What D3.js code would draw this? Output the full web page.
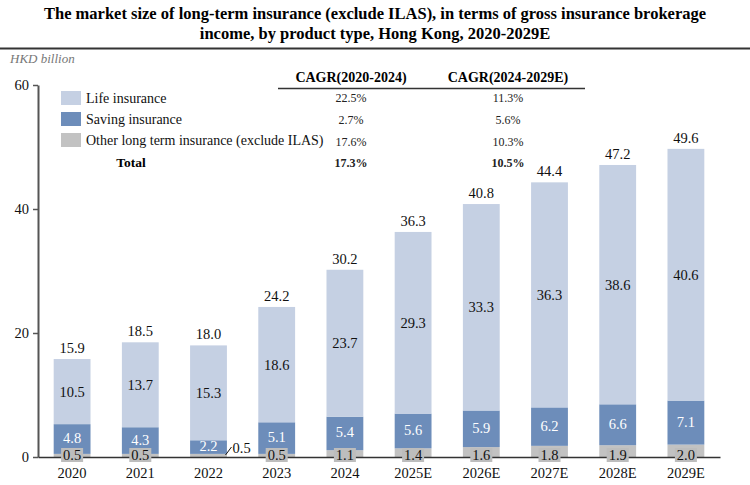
<!DOCTYPE html>
<html><head><meta charset="utf-8">
<script src="https://cdn.jsdelivr.net/npm/d3@7"></script>
<style>body{margin:0;background:#fff}svg{display:block}text{font-family:"Liberation Serif","Times New Roman",serif}</style>
</head><body><svg id="c" width="750" height="485"></svg>
<script>
const years = ["2020","2021","2022","2023","2024","2025E","2026E","2027E","2028E","2029E"];
const other = [0.5,0.5,0.5,0.5,1.1,1.4,1.6,1.8,1.9,2.0];
const saving = [4.8,4.3,2.2,5.1,5.4,5.6,5.9,6.2,6.6,7.1];
const life = [10.5,13.7,15.3,18.6,23.7,29.3,33.3,36.3,38.6,40.6];
const totals = [15.9,18.5,18.0,24.2,30.2,36.3,40.8,44.4,47.2,49.6];
const yTicks = [0,20,40,60];
const seriesNames = ["Life insurance","Saving insurance","Other long term insurance (exclude ILAS)"];
const cagr1 = ["22.5%","2.7%","17.6%","17.3%"];
const cagr2 = ["11.3%","5.6%","10.3%","10.5%"];
const cagrHeads = ["CAGR(2020-2024)","CAGR(2024-2029E)"];

const colors = {life:"#c5d0e3", saving:"#6d8dba", other:"#c2c2c2"};
const svg = d3.select("#c");

// title
svg.append("text").attr("x",375).attr("y",19).attr("text-anchor","middle")
  .attr("font-weight","bold").attr("font-size",16.5).text("The market size of long-term insurance (exclude ILAS), in terms of gross insurance brokerage");
svg.append("text").attr("x",375).attr("y",39).attr("text-anchor","middle")
  .attr("font-weight","bold").attr("font-size",16.5).text("income, by product type, Hong Kong, 2020-2029E");
svg.append("line").attr("x1",0).attr("x2",750).attr("y1",48.5).attr("y2",48.5).attr("stroke","#333").attr("stroke-width",2);
svg.append("text").attr("x",10).attr("y",63).attr("font-style","italic").attr("font-size",13).attr("fill","#777").text("HKD billion");

const x = d3.scaleBand().domain(years).range([38,720]).paddingInner(0.46).paddingOuter(0.23);
const y = d3.scaleLinear().domain([0,60]).range([457,85]);

const data = years.map((yr,i)=>({year:yr, other:other[i], saving:saving[i], life:life[i]}));
const stack = d3.stack().keys(["other","saving","life"])(data);

svg.append("g").selectAll("g").data(stack).join("g").attr("fill",d=>colors[d.key])
  .selectAll("rect").data(d=>d).join("rect")
  .attr("x",d=>x(d.data.year)).attr("width",x.bandwidth())
  .attr("y",d=>y(d[1])).attr("height",d=>y(d[0])-y(d[1]));

// axes
const yAxis = svg.append("g").attr("transform","translate(38,0)")
  .call(d3.axisLeft(y).tickValues(yTicks).tickSize(5).tickPadding(4).tickSizeOuter(0));
yAxis.select(".domain").attr("stroke","#555").attr("stroke-width",2);
yAxis.selectAll(".tick line").attr("stroke","#555").attr("stroke-width",1.5);
yAxis.selectAll(".tick text").attr("font-size",14.5).attr("fill","#111");

const xAxis = svg.append("g").attr("transform","translate(0,457)")
  .call(d3.axisBottom(x).tickSize(0).tickPadding(11).tickSizeOuter(0));
xAxis.select(".domain").attr("stroke","#333").attr("stroke-width",1.5);
xAxis.selectAll(".tick text").attr("font-size",14.5).attr("fill","#111");

// labels
const lab = svg.append("g").attr("font-size",14.5).attr("text-anchor","middle");
stack.forEach(s=>{
  s.forEach((d,i)=>{
    const cx = x(d.data.year)+x.bandwidth()/2;
    if(s.key==="life"){
      lab.append("text").attr("x",cx).attr("y",(y(d[0])+y(d[1]))/2+5).attr("fill","#111").text(life[i].toFixed(1));
    } else if(s.key==="saving"){
      lab.append("text").attr("x",cx).attr("y",(y(d[0])+y(d[1]))/2+4).attr("fill","#fff").text(saving[i].toFixed(1));
    } else {
      const val = other[i].toFixed(1);
      if(i===2){
        lab.append("line").attr("x1",cx+17).attr("y1",y(0)-2).attr("x2",cx+23).attr("y2",y(0)-10).attr("stroke","#111").attr("stroke-width",1);
        lab.append("text").attr("x",cx+24).attr("y",y(0)-4).attr("text-anchor","start").attr("fill","#111").text(val);
      } else {
        const cy = y(0)-2;
        lab.append("rect").attr("x",cx-11).attr("y",cy-7).attr("width",22).attr("height",14).attr("fill","#bdbdbd");
        lab.append("text").attr("x",cx).attr("y",cy+5).attr("fill","#111").text(val);
      }
    }
  });
});
// totals
lab.selectAll(".tot").data(data).join("text").attr("class","tot")
  .attr("x",d=>x(d.year)+x.bandwidth()/2)
  .attr("y",(d,i)=>y(d.other+d.saving+d.life)-6).attr("fill","#111")
  .text((d,i)=>totals[i].toFixed(1));

// legend
const legKeys = ["life","saving","other"];
const leg = svg.append("g");
legKeys.forEach((k,i)=>{
  leg.append("rect").attr("x",61).attr("y",91+i*21).attr("width",20).attr("height",14).attr("fill",colors[k]);
  leg.append("text").attr("x",86).attr("y",103+i*21).attr("font-size",14).attr("fill","#111").text(seriesNames[i]);
});
leg.append("text").attr("x",131).attr("y",167).attr("text-anchor","middle").attr("font-weight","bold").attr("font-size",13.5).text("Total");

// CAGR table
const tbl = svg.append("g").attr("text-anchor","middle");
const colX = [351,508];
cagrHeads.forEach((h,j)=>{
  tbl.append("text").attr("x",colX[j]).attr("y",82).attr("font-weight","bold").attr("font-size",14).text(h);
});
tbl.append("line").attr("x1",278).attr("x2",585).attr("y1",88.5).attr("y2",88.5).attr("stroke","#333").attr("stroke-width",1.5);
[cagr1,cagr2].forEach((col,j)=>{
  col.forEach((v,i)=>{
    tbl.append("text").attr("x",colX[j]).attr("y",102+i*21.8).attr("font-size",12)
      .attr("font-weight",i===3?"bold":"normal").attr("fill","#222").text(v);
  });
});
</script></body></html>
